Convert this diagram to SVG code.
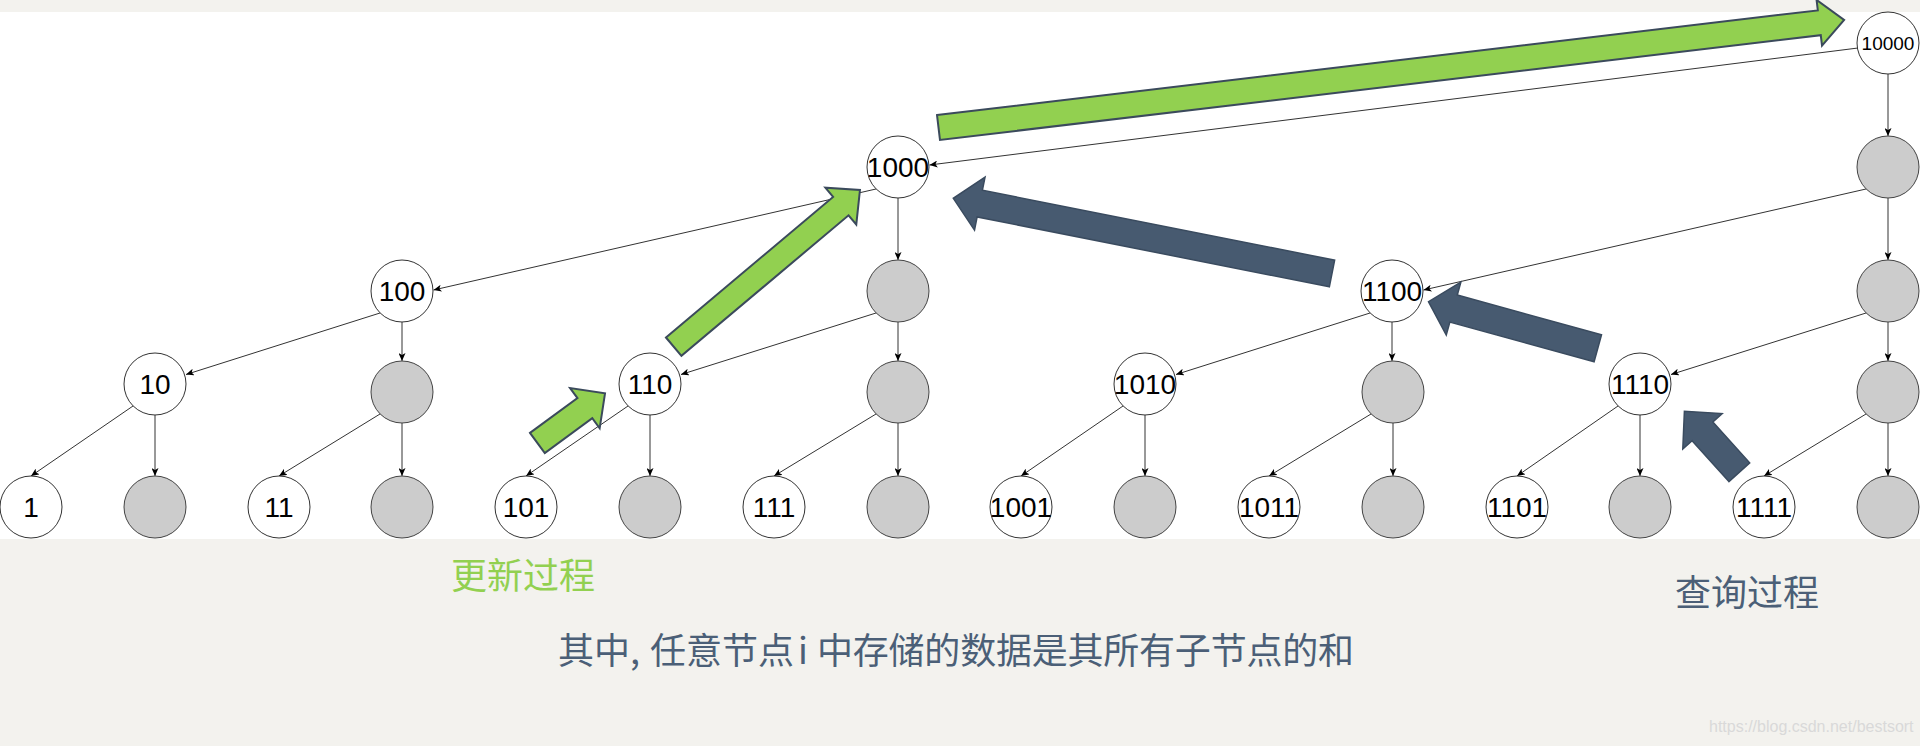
<svg xmlns="http://www.w3.org/2000/svg" width="1920" height="746" viewBox="0 0 1920 746">
<style>
.nw{fill:#ffffff;stroke:#333333;stroke-width:1}
.ng{fill:#cccccc;stroke:#444444;stroke-width:1}
.lb{font-family:"Liberation Sans",Arial,sans-serif;font-size:28px;fill:#000000;text-anchor:middle}
.e{stroke:#333333;stroke-width:1;fill:none;marker-end:url(#ah)}
.ga{fill:#92D050;stroke:#3b4a5c;stroke-width:2;stroke-linejoin:miter}
.da{fill:#475A70;stroke:#3a4b5f;stroke-width:1.5;stroke-linejoin:miter}
.cj{font-family:"Noto Sans CJK SC","Noto Sans",sans-serif;font-size:36px}
</style>
<defs>
<marker id="ah" markerWidth="9" markerHeight="7" refX="8" refY="3.5" orient="auto" markerUnits="userSpaceOnUse">
<path d="M0,0 L8,3.5 L0,7 L2,3.5 z" fill="#000000"/>
</marker>
</defs>
<rect x="0" y="0" width="1920" height="746" fill="#ffffff"/>
<rect x="0" y="0" width="1920" height="12" fill="#f3f2ee"/>
<rect x="0" y="539" width="1920" height="207" fill="#f3f2ee"/>

<g id="connectors">
<line class="e" x1="1858" y1="48" x2="929.5" y2="165"/>
<line class="e" x1="1888" y1="74" x2="1888" y2="136"/>
<line class="e" x1="876" y1="189" x2="433.5" y2="290"/>
<line class="e" x1="898" y1="198" x2="898" y2="260"/>
<line class="e" x1="1866" y1="189" x2="1423.5" y2="290"/>
<line class="e" x1="1888" y1="198" x2="1888" y2="260"/>
<line class="e" x1="380" y1="313" x2="186" y2="374.5"/>
<line class="e" x1="402" y1="322" x2="402" y2="361"/>
<line class="e" x1="876" y1="313" x2="681" y2="374.5"/>
<line class="e" x1="898" y1="322" x2="898" y2="361"/>
<line class="e" x1="1370" y1="313" x2="1176" y2="374.5"/>
<line class="e" x1="1392" y1="322" x2="1392" y2="361"/>
<line class="e" x1="1866" y1="313" x2="1671" y2="374.5"/>
<line class="e" x1="1888" y1="322" x2="1888" y2="361"/>
<line class="e" x1="133" y1="406" x2="31" y2="476"/>
<line class="e" x1="155" y1="415" x2="155" y2="476"/>
<line class="e" x1="380" y1="414" x2="279" y2="476"/>
<line class="e" x1="402" y1="423" x2="402" y2="476"/>
<line class="e" x1="628" y1="406" x2="526" y2="476"/>
<line class="e" x1="650" y1="415" x2="650" y2="476"/>
<line class="e" x1="876" y1="414" x2="774" y2="476"/>
<line class="e" x1="898" y1="423" x2="898" y2="476"/>
<line class="e" x1="1123" y1="406" x2="1021" y2="476"/>
<line class="e" x1="1145" y1="415" x2="1145" y2="476"/>
<line class="e" x1="1371" y1="414" x2="1269" y2="476"/>
<line class="e" x1="1393" y1="423" x2="1393" y2="476"/>
<line class="e" x1="1618" y1="406" x2="1517" y2="476"/>
<line class="e" x1="1640" y1="415" x2="1640" y2="476"/>
<line class="e" x1="1866" y1="414" x2="1764" y2="476"/>
<line class="e" x1="1888" y1="423" x2="1888" y2="476"/>
</g>

<g id="n10000"><circle class="nw" cx="1888" cy="43" r="31"/><text class="lb" x="1888" y="50" style="font-size:19px">10000</text></g>
<g id="n1000"><circle class="nw" cx="898" cy="167" r="31"/><text class="lb" x="898" y="177">1000</text></g>
<g id="g3b"><circle class="ng" cx="1888" cy="167" r="31"/></g>
<g id="n100"><circle class="nw" cx="402" cy="291" r="31"/><text class="lb" x="402" y="301">100</text></g>
<g id="g2a"><circle class="ng" cx="898" cy="291" r="31"/></g>
<g id="n1100"><circle class="nw" cx="1392" cy="291" r="31"/><text class="lb" x="1392" y="301">1100</text></g>
<g id="g2b"><circle class="ng" cx="1888" cy="291" r="31"/></g>
<g id="n10"><circle class="nw" cx="155" cy="384" r="31"/><text class="lb" x="155" y="394">10</text></g>
<g id="g1a"><circle class="ng" cx="402" cy="392" r="31"/></g>
<g id="n110"><circle class="nw" cx="650" cy="384" r="31"/><text class="lb" x="650" y="394">110</text></g>
<g id="g1b"><circle class="ng" cx="898" cy="392" r="31"/></g>
<g id="n1010"><circle class="nw" cx="1145" cy="384" r="31"/><text class="lb" x="1145" y="394">1010</text></g>
<g id="g1c"><circle class="ng" cx="1393" cy="392" r="31"/></g>
<g id="n1110"><circle class="nw" cx="1640" cy="384" r="31"/><text class="lb" x="1640" y="394">1110</text></g>
<g id="g1d"><circle class="ng" cx="1888" cy="392" r="31"/></g>
<g id="n1"><circle class="nw" cx="31" cy="507" r="31"/><text class="lb" x="31" y="517">1</text></g>
<g id="g0a"><circle class="ng" cx="155" cy="507" r="31"/></g>
<g id="n11"><circle class="nw" cx="279" cy="507" r="31"/><text class="lb" x="279" y="517">11</text></g>
<g id="g0b"><circle class="ng" cx="402" cy="507" r="31"/></g>
<g id="n101"><circle class="nw" cx="526" cy="507" r="31"/><text class="lb" x="526" y="517">101</text></g>
<g id="g0c"><circle class="ng" cx="650" cy="507" r="31"/></g>
<g id="n111"><circle class="nw" cx="774" cy="507" r="31"/><text class="lb" x="774" y="517">111</text></g>
<g id="g0d"><circle class="ng" cx="898" cy="507" r="31"/></g>
<g id="n1001"><circle class="nw" cx="1021" cy="507" r="31"/><text class="lb" x="1021" y="517">1001</text></g>
<g id="g0e"><circle class="ng" cx="1145" cy="507" r="31"/></g>
<g id="n1011"><circle class="nw" cx="1269" cy="507" r="31"/><text class="lb" x="1269" y="517">1011</text></g>
<g id="g0f"><circle class="ng" cx="1393" cy="507" r="31"/></g>
<g id="n1101"><circle class="nw" cx="1517" cy="507" r="31"/><text class="lb" x="1517" y="517">1101</text></g>
<g id="g0g"><circle class="ng" cx="1640" cy="507" r="31"/></g>
<g id="n1111"><circle class="nw" cx="1764" cy="507" r="31"/><text class="lb" x="1764" y="517">1111</text></g>
<g id="g0h"><circle class="ng" cx="1888" cy="507" r="31"/></g>

<g id="update-arrows">
<polygon class="ga" transform="translate(938.5,127.5) rotate(-6.78)" points="0,-12.5 887,-12.5 887,-23 912,0 887,23 887,12.5 0,12.5"/>
<polygon class="ga" transform="translate(673.7,346.7) rotate(-40.07)" points="0,-12 218.4,-12 218.4,-24 243.4,0 218.4,24 218.4,12 0,12"/>
<polygon class="ga" transform="translate(537.4,443) rotate(-36.3)" points="0,-12.5 58.9,-12.5 58.9,-25 83.9,0 58.9,25 58.9,12.5 0,12.5"/>
</g>
<g id="query-arrows">
<polygon class="da" transform="translate(1332,273.5) rotate(-168.77)" points="0,-13.6 359.1,-13.6 359.1,-27 386.1,0 359.1,27 359.1,13.6 0,13.6"/>
<polygon class="da" transform="translate(1597.8,348.3) rotate(-164.6)" points="0,-14 149.6,-14 149.6,-27.5 175.6,0 149.6,27.5 149.6,14 0,14"/>
<polygon class="da" transform="translate(1739.3,472.2) rotate(-132.03)" points="0,-14 55,-14 55,-26.5 82,0 55,26.5 55,14 0,14"/>
</g>

<g id="texts">
<text class="cj" x="451" y="589" fill="#92D050">更新过程</text>
<text class="cj" x="1675" y="606" fill="#4B5F77">查询过程</text>
<text class="cj" y="664" fill="#4B5F77"><tspan x="558">其中,</tspan><tspan x="650">任意节点</tspan><tspan x="798">i</tspan><tspan x="817" textLength="537" lengthAdjust="spacing">中存储的数据是其所有子节点的和</tspan></text>
<text x="1709" y="732" font-family="Liberation Sans, Arial, sans-serif" font-size="16" fill="#d9d9d9">https://blog.csdn.net/bestsort</text>
</g>
</svg>
